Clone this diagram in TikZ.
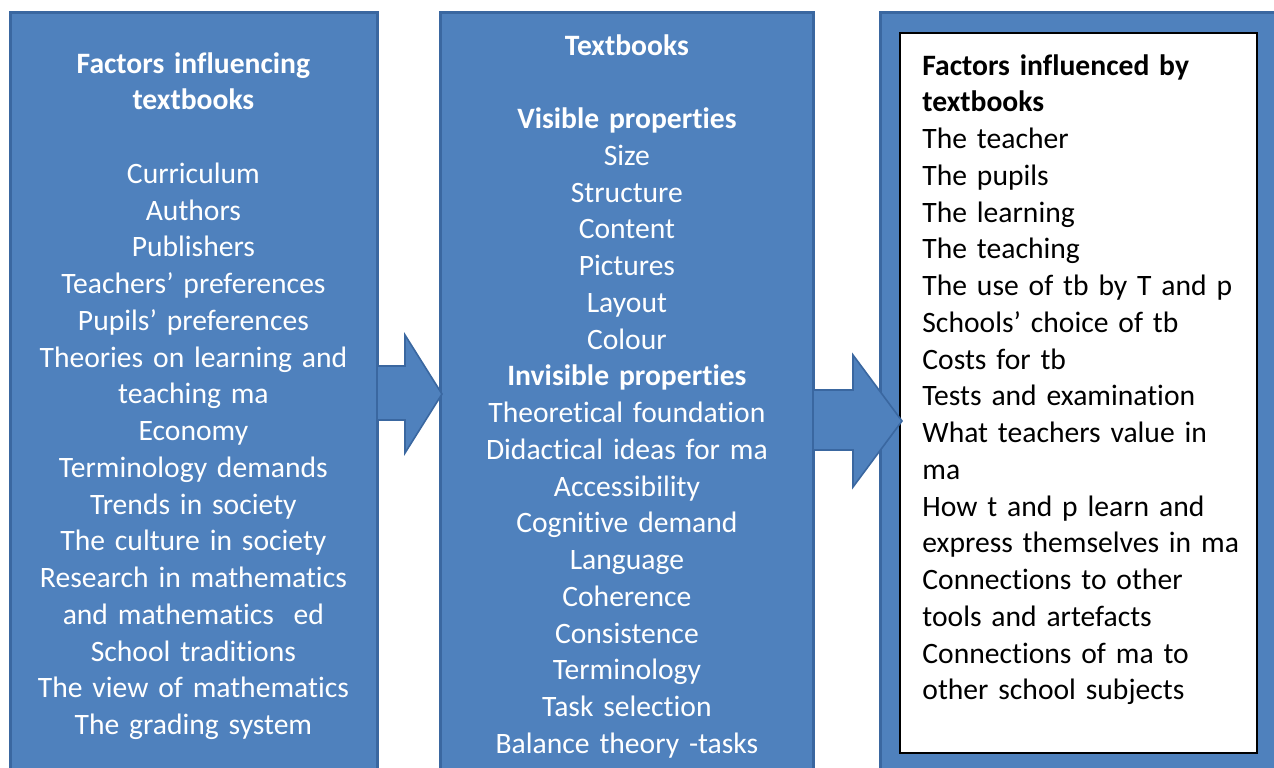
\documentclass[tikz,border=0pt]{standalone}
\usepackage{fontspec}
\setmainfont{Carlito}[RawFeature={-liga;-clig;-calt}]
\definecolor{boxblue}{HTML}{4F81BD}
\definecolor{boxedge}{HTML}{3A67A0}
\begin{document}
\begin{tikzpicture}[x=0.5pt,y=-0.5pt,
  panel/.style={fill=boxblue,draw=boxedge,line width=1.5pt},
  blockarrow/.style={fill=boxblue,draw=boxedge,line width=0.8pt,line join=miter},
  coltext/.style={inner sep=0pt,font=\fontsize{14.8}{18.375}\selectfont},
]
\useasboundingbox (0,0) rectangle (1274,767);
\clip (0,0) rectangle (1274,767);
% panels
\draw[panel] (10,12) rectangle (377,800);
\draw[panel] (440,12) rectangle (813,800);
\draw[panel] (880,12) rectangle (1300,800);
\draw[fill=white,draw=black,line width=0.7pt] (900,33) rectangle (1257,753);
% arrows
\draw[blockarrow] (377,366) -- (405,366) -- (405,335) -- (442,394) -- (405,453) -- (405,420) -- (377,420) -- cycle;
\draw[blockarrow] (813,390) -- (853,390) -- (853,355) -- (902,421) -- (853,487) -- (853,450) -- (813,450) -- cycle;
% texts
\node[coltext,text=white,text width=183pt,align=center,anchor=base west] (lefttext) at (10,73)
{\textbf{Factors influencing}\\
\textbf{textbooks}\\
\mbox{}\\
Curriculum\\
Authors\\
Publishers\\
Teachers’ preferences\\
Pupils’ preferences\\
Theories on learning and\\
teaching ma\\
Economy\\
Terminology demands\\
Trends in society\\
The culture in society\\
Research in mathematics\\
and mathematics~ ed\\
School traditions\\
The view of mathematics\\
The grading system};
\node[coltext,text=white,text width=186.5pt,align=center,anchor=base west] (midtext) at (440,55)
{\textbf{Textbooks}\\
\mbox{}\\
\textbf{Visible properties}\\
Size\\
Structure\\
Content\\
Pictures\\
Layout\\
Colour\\
\textbf{Invisible properties}\\
Theoretical foundation\\
Didactical ideas for ma\\
Accessibility\\
Cognitive demand\\
Language\\
Coherence\\
Consistence\\
Terminology\\
Task selection\\
Balance theory -tasks};
\node[coltext,text=black,text width=167pt,align=left,anchor=base west] (righttext) at (922,75)
{\textbf{Factors influenced by}\\
\textbf{textbooks}\\
The teacher\\
The pupils\\
The learning\\
The teaching\\
The use of tb by T and p\\
Schools’ choice of tb\\
Costs for tb\\
Tests and examination\\
What teachers value in\\
ma\\
How t and p learn and\\
express themselves in ma\\
Connections to other\\
tools and artefacts\\
Connections of ma to\\
other school subjects};
\end{tikzpicture}
\end{document}
